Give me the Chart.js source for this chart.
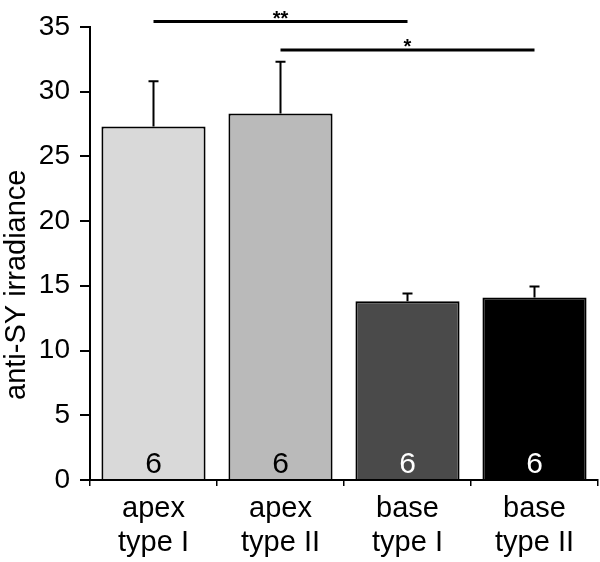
<!DOCTYPE html>
<html>
<head>
<meta charset="utf-8">
<script src="https://cdn.jsdelivr.net/npm/chart.js@4/dist/chart.umd.min.js"></script>
<style>
  html, body { margin: 0; padding: 0; background: #fff; }
  #wrap { width: 600px; height: 562px; }
</style>
</head>
<body>
<div id="wrap"><canvas id="myChart1"></canvas></div>
<script>
// data
const categories = [['apex', 'type I'], ['apex', 'type II'], ['base', 'type I'], ['base', 'type II']];
const means = [27.3, 28.3, 13.8, 14.1];
const errors = [3.5, 4.0, 0.6, 0.85];
const nLabels = ['6', '6', '6', '6'];
const barColors = ['#d9d9d9', '#bababa', '#4a4a4a', '#000000'];
const nColors = ['#000', '#000', '#fff', '#fff'];
const yTicks = [0, 5, 10, 15, 20, 25, 30, 35];
// significance brackets: pair of bars, height (y units), label
const sigPairs = [[0, 2], [1, 3]];
const sigLevels = [35.4, 33.2];
const sigLabels = ['**', '*'];

const FONT = "'Liberation Sans', Arial, sans-serif";

const extras = {
  id: 'extras',
  afterDatasetsDraw(chart) {
    const ctx = chart.ctx;
    const x = chart.scales.x, y = chart.scales.y;
    const meta = chart.getDatasetMeta(0);
    ctx.save();
    // error bars (upper only)
    ctx.strokeStyle = '#000';
    ctx.lineWidth = 2;
    meta.data.forEach((bar, i) => {
      const top = y.getPixelForValue(means[i] + errors[i]);
      ctx.beginPath();
      ctx.moveTo(bar.x, bar.y);
      ctx.lineTo(bar.x, top);
      ctx.moveTo(bar.x - 5, top);
      ctx.lineTo(bar.x + 5, top);
      ctx.stroke();
    });
    // n inside bars
    ctx.font = '30px ' + FONT;
    ctx.textAlign = 'center';
    ctx.textBaseline = 'alphabetic';
    meta.data.forEach((bar, i) => {
      ctx.fillStyle = nColors[i];
      ctx.fillText(nLabels[i], bar.x, y.getPixelForValue(0) - 7);
    });
    // significance lines
    ctx.lineWidth = 3;
    ctx.fillStyle = '#000';
    ctx.font = 'bold 20px ' + FONT;
    sigPairs.forEach((p, k) => {
      const x1 = x.getPixelForValue(p[0]);
      const x2 = x.getPixelForValue(p[1]);
      const yy = y.getPixelForValue(sigLevels[k]);
      ctx.beginPath();
      ctx.moveTo(x1, yy);
      ctx.lineTo(x2, yy);
      ctx.stroke();
      ctx.fillText(sigLabels[k], (x1 + x2) / 2, yy + 3);
    });
    // y axis title
    ctx.translate(25, 400);
    ctx.rotate(-Math.PI / 2);
    ctx.textAlign = 'left';
    ctx.font = '29px ' + FONT;
    ctx.fillStyle = '#000';
    ctx.fillText('anti-SY irradiance', 0, 0);
    ctx.restore();
  }
};

const ctx = document.getElementById('myChart1').getContext('2d');
const chart = new Chart(ctx, {
  type: 'bar',
  data: {
    labels: categories,
    datasets: [{
      data: means,
      backgroundColor: barColors,
      borderColor: '#000',
      borderWidth: 2,
      barPercentage: 0.82,
      categoryPercentage: 1.0
    }]
  },
  options: {
    responsive: true,
    maintainAspectRatio: false,
    animation: false,
    events: [],
    layout: { padding: { top: 19, right: 2, left: 0, bottom: 0 } },
    plugins: { legend: { display: false }, tooltip: { enabled: false } },
    scales: {
      x: {
        grid: { display: true, drawOnChartArea: false, drawTicks: true, tickLength: 6, color: '#000', lineWidth: 1.5, offset: true },
        border: { display: true, color: '#000', width: 2 },
        ticks: { color: '#000', padding: 6, maxRotation: 0, font: { family: FONT, size: 29, lineHeight: 1.17 } },
        afterFit(s) { s.height = 82; }
      },
      y: {
        min: 0, max: 35,
        afterBuildTicks(s) { s.ticks = yTicks.map(v => ({ value: v })); },
        grid: { display: true, drawOnChartArea: false, drawTicks: true, tickLength: 10, color: '#000', lineWidth: 2 },
        border: { display: true, color: '#000', width: 2 },
        ticks: { color: '#000', padding: 10, font: { family: FONT, size: 28 } },
        afterFit(s) { s.width = 90; }
      }
    }
  },
  plugins: [extras]
});
</script>
</body>
</html>
